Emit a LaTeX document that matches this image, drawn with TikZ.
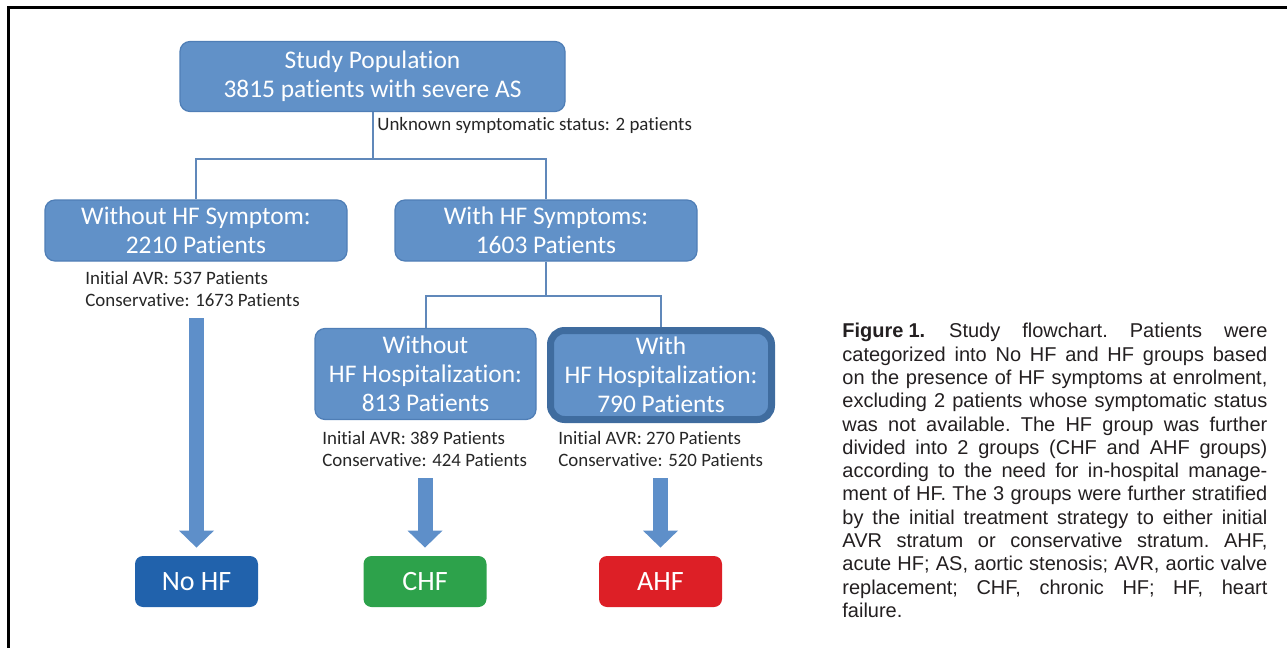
\documentclass[tikz,border=0pt]{standalone}
\usepackage{fontspec}
\setmainfont{Carlito}[Ligatures={NoCommon}]
\newfontfamily\capfont{Liberation Sans}
\usetikzlibrary{arrows.meta}
\definecolor{boxblue}{HTML}{6191C8}
\definecolor{boxedge}{HTML}{4F7EB6}
\definecolor{hospedge}{HTML}{3F6C9F}
\definecolor{linecol}{HTML}{6088BA}
\definecolor{arrowblue}{HTML}{5E8FC9}
\definecolor{nohfcol}{HTML}{2162AC}
\definecolor{chfcol}{HTML}{2DA24B}
\definecolor{ahfcol}{HTML}{DD1F26}
\definecolor{txtgray}{HTML}{262626}
\definecolor{captxt}{HTML}{231F20}
\newcommand\capline[1]{\hbox to 212.5pt{\frenchspacing\spaceskip=0.278em plus 1fil minus 0.09em\relax
  \xspaceskip=\spaceskip #1}}
\begin{document}
\begin{tikzpicture}[x=0.5pt,y=-0.5pt,
  bluebox/.style={draw=boxedge, line width=0.6pt, fill=boxblue, rounded corners=5pt,
    text=white, align=center, font=\fontsize{12.7}{14.5}\selectfont, inner sep=0pt},
  endbox/.style={rounded corners=4pt, text=white, font=\fontsize{14}{16}\selectfont,
    minimum width=61.5pt, minimum height=25.5pt, inner sep=0pt},
  note/.style={anchor=west, align=left, text=txtgray, font=\fontsize{9.45}{11}\selectfont, inner sep=0pt},
  conn/.style={draw=linecol, line width=1pt},
  bigarrow/.style={draw=arrowblue, line width=7.5pt,
    -{Triangle[width=17.5pt,length=8.5pt,line width=0pt 0,fill=arrowblue]}}
]
\useasboundingbox (0,0) rectangle (1287,648);
% frame
\draw[line width=1.5pt, black] (8,648) -- (8,7) -- (1287,7);

% boxes
\node[bluebox, minimum width=192.5pt, minimum height=35pt] (study) at (372.5,76.5)
  {Study Population\\3815 patients with severe AS};
\node[bluebox, minimum width=151pt, minimum height=30.5pt] (nosym) at (196,230.5)
  {Without HF Symptom:\\2210 Patients};
\node[bluebox, minimum width=151pt, minimum height=30.5pt] (sym) at (546,230.5)
  {With HF Symptoms:\\1603 Patients};
\node[bluebox, minimum width=110.5pt, minimum height=45.5pt] (nohosp) at (425.5,374)
  {Without\\HF Hospitalization:\\813 Patients};
\node[bluebox, draw=hospedge, line width=3.5pt, rounded corners=7pt,
  minimum width=110.5pt, minimum height=44.5pt] (hosp) at (661,375)
  {With\\HF Hospitalization:\\790 Patients};

\node[endbox, fill=nohfcol] (nohf) at (196.5,581.5) {No HF};
\node[endbox, fill=chfcol] (chf) at (425,581.5) {CHF};
\node[endbox, fill=ahfcol] (ahf) at (660.5,581.5) {AHF};

% notes
\node[note] (unk) at (377,125) {Unknown symptomatic status: 2 patients};
\node[note] (t1) at (85,289) {Initial AVR: 537 Patients\\Conservative: 1673 Patients};
\node[note] (t2) at (322,449) {Initial AVR: 389 Patients\\Conservative: 424 Patients};
\node[note] (t3) at (558,449) {Initial AVR: 270 Patients\\Conservative: 520 Patients};

% connectors
\draw[conn] (study.south) -- (study.south |- 0,159) -| (nosym.north);
\draw[conn] (study.south) -- (study.south |- 0,159) -| (sym.north);
\draw[conn] (sym.south) -- (sym.south |- 0,296) -| (nohosp.north);
\draw[conn] (sym.south) -- (sym.south |- 0,296) -| (hosp.north);

% block arrows
\draw[bigarrow] (nohf.north |- 0,318) -- ([yshift=4pt]nohf.north);
\draw[bigarrow] (chf.north |- 0,478) -- ([yshift=4pt]chf.north);
\draw[bigarrow] (ahf.north |- 0,478) -- ([yshift=4pt]ahf.north);

% caption
\node[anchor=north west, inner sep=0pt, text width=212.5pt, text=captxt,
  font=\capfont\fontsize{10}{11.65}\selectfont] (cap) at (842,323) {%
\capline{{\bfseries Figure\kern0.25em1.}\hspace{12pt}Study flowchart. Patients were}
\capline{categorized into No HF and HF groups based}
\capline{on the presence of HF symptoms at enrolment,}
\capline{excluding 2 patients whose symptomatic status}
\capline{was not available. The HF group was further}
\capline{divided into 2 groups (CHF and AHF groups)}
\capline{according to the need for in-hospital manage-}
\capline{ment of HF. The 3 groups were further stratified}
\capline{by the initial treatment strategy to either initial}
\capline{AVR stratum or conservative stratum. AHF,}
\capline{acute HF; AS, aortic stenosis; AVR, aortic valve}
\capline{replacement; CHF, chronic HF; HF, heart}
\hbox{failure.}};
\end{tikzpicture}
\end{document}
